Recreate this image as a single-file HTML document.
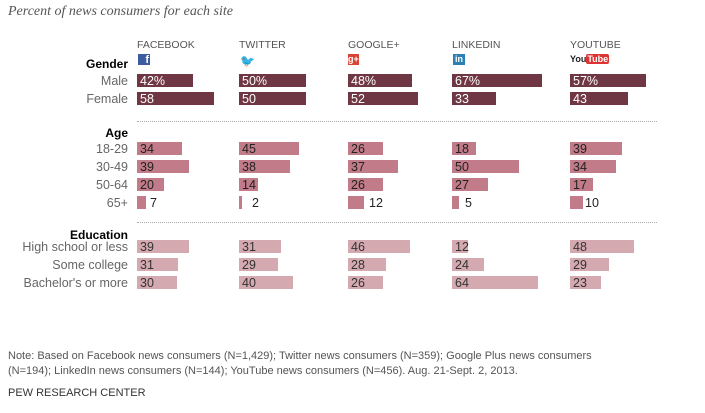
<!DOCTYPE html>
<html><head><style>
body{margin:0;width:705px;height:413px;background:#fff;position:relative;font-family:"Liberation Sans",sans-serif;overflow:hidden}
.a{position:absolute}
.t{position:absolute;font-size:11.5px;color:#555;white-space:nowrap}
.l{position:absolute;font-size:12.5px;color:#666;right:577px;text-align:right;white-space:nowrap}
.h{position:absolute;font-size:12px;font-weight:bold;color:#000;right:577px}
.b{position:absolute;height:13px;font-size:12.5px;line-height:14px;padding-left:3px;box-sizing:border-box;white-space:nowrap}
.g{background:#6f3743;color:#fff}
.ag{background:#c27b88;color:#222}
.ed{background:#d5a9b0;color:#333}
.dot{position:absolute;border-top:1px dotted #aaa}
</style></head><body>
<div class="a" style="left:8px;top:4px;font-family:'Liberation Serif',serif;font-style:italic;font-size:14px;color:#555">Percent of news consumers for each site</div>

<div class="t" style="left:137px;top:39px;font-size:10.5px">FACEBOOK</div>
<div class="t" style="left:239px;top:39px;font-size:10.5px">TWITTER</div>
<div class="t" style="left:348px;top:39px;font-size:10.5px">GOOGLE+</div>
<div class="t" style="left:452px;top:39px;font-size:10.5px">LINKEDIN</div>
<div class="t" style="left:570px;top:39px;font-size:10.5px">YOUTUBE</div>
<div class="a" style="left:138px;top:54px;width:12px;height:11px;background:#3b5da0;color:#fff;font-size:11px;font-weight:bold;line-height:12px;text-align:right;padding-right:1px;box-sizing:border-box">f</div>
<div class="a" style="left:240px;top:54px;color:#3aa0e0;font-size:12px">&#x1F426;</div>
<div class="a" style="left:348px;top:54px;width:11px;height:11px;background:#d94436;color:#fff;font-size:9px;font-weight:bold;line-height:11px">g+</div>
<div class="a" style="left:453px;top:54px;width:12px;height:11px;background:#2b80b4;color:#fff;font-size:9px;font-weight:bold;line-height:11px;text-align:center">in</div>
<div class="a" style="left:570px;top:54px;font-size:9px;font-weight:bold;line-height:11px;color:#222">You<span style="background:#d33;color:#fff;border-radius:2px;padding:0 1px">Tube</span></div>

<div class="h" style="top:57px">Gender</div>
<div class="l" style="top:74px">Male</div>
<div class="l" style="top:92px">Female</div>
<div class="dot" style="left:137px;width:520px;top:121px"></div>
<div class="h" style="top:126px">Age</div>
<div class="l" style="top:142px">18-29</div>
<div class="l" style="top:160px">30-49</div>
<div class="l" style="top:178px">50-64</div>
<div class="l" style="top:196px">65+</div>
<div class="dot" style="left:137px;width:520px;top:222px"></div>
<div class="h" style="top:228px">Education</div>
<div class="l" style="top:240px">High school or less</div>
<div class="l" style="top:258px">Some college</div>
<div class="l" style="top:276px">Bachelor's or more</div>

<div class="b g" style="left:137px;top:74px;width:56px">42%</div>
<div class="b g" style="left:137px;top:92px;width:77px">58</div>
<div class="b ag" style="left:137px;top:142px;width:45px">34</div>
<div class="b ag" style="left:137px;top:160px;width:52px">39</div>
<div class="b ag" style="left:137px;top:178px;width:27px">20</div>
<div class="b ag" style="left:137px;top:196px;width:9px"></div><div class="t" style="left:150px;top:196px;color:#222;font-size:12.5px">7</div>
<div class="b ed" style="left:137px;top:240px;width:52px">39</div>
<div class="b ed" style="left:137px;top:258px;width:41px">31</div>
<div class="b ed" style="left:137px;top:276px;width:40px">30</div>

<div class="b g" style="left:239px;top:74px;width:67px">50%</div>
<div class="b g" style="left:239px;top:92px;width:67px">50</div>
<div class="b ag" style="left:239px;top:142px;width:60px">45</div>
<div class="b ag" style="left:239px;top:160px;width:51px">38</div>
<div class="b ag" style="left:239px;top:178px;width:19px">14</div>
<div class="b ag" style="left:239px;top:196px;width:3px;padding:0"></div><div class="t" style="left:252px;top:196px;color:#222;font-size:12.5px">2</div>
<div class="b ed" style="left:239px;top:240px;width:42px">31</div>
<div class="b ed" style="left:239px;top:258px;width:39px">29</div>
<div class="b ed" style="left:239px;top:276px;width:54px">40</div>

<div class="b g" style="left:348px;top:74px;width:64px">48%</div>
<div class="b g" style="left:348px;top:92px;width:70px">52</div>
<div class="b ag" style="left:348px;top:142px;width:35px">26</div>
<div class="b ag" style="left:348px;top:160px;width:50px">37</div>
<div class="b ag" style="left:348px;top:178px;width:35px">26</div>
<div class="b ag" style="left:348px;top:196px;width:16px"></div><div class="t" style="left:369px;top:196px;color:#222;font-size:12.5px">12</div>
<div class="b ed" style="left:348px;top:240px;width:62px">46</div>
<div class="b ed" style="left:348px;top:258px;width:38px">28</div>
<div class="b ed" style="left:348px;top:276px;width:35px">26</div>

<div class="b g" style="left:452px;top:74px;width:90px">67%</div>
<div class="b g" style="left:452px;top:92px;width:44px">33</div>
<div class="b ag" style="left:452px;top:142px;width:24px">18</div>
<div class="b ag" style="left:452px;top:160px;width:67px">50</div>
<div class="b ag" style="left:452px;top:178px;width:36px">27</div>
<div class="b ag" style="left:452px;top:196px;width:7px"></div><div class="t" style="left:465px;top:196px;color:#222;font-size:12.5px">5</div>
<div class="b ed" style="left:452px;top:240px;width:16px">12</div>
<div class="b ed" style="left:452px;top:258px;width:32px">24</div>
<div class="b ed" style="left:452px;top:276px;width:86px">64</div>

<div class="b g" style="left:570px;top:74px;width:76px">57%</div>
<div class="b g" style="left:570px;top:92px;width:58px">43</div>
<div class="b ag" style="left:570px;top:142px;width:52px">39</div>
<div class="b ag" style="left:570px;top:160px;width:46px">34</div>
<div class="b ag" style="left:570px;top:178px;width:23px">17</div>
<div class="b ag" style="left:570px;top:196px;width:13px"></div><div class="t" style="left:585px;top:196px;color:#222;font-size:12.5px">10</div>
<div class="b ed" style="left:570px;top:240px;width:64px">48</div>
<div class="b ed" style="left:570px;top:258px;width:39px">29</div>
<div class="b ed" style="left:570px;top:276px;width:31px">23</div>

<div class="a" style="left:8px;top:349px;font-size:11px;color:#555;line-height:15px;width:690px">Note: Based on Facebook news consumers (N=1,429); Twitter news consumers (N=359); Google Plus news consumers<br>(N=194); LinkedIn news consumers (N=144); YouTube news consumers (N=456). Aug. 21-Sept. 2, 2013.</div>
<div class="a" style="left:8px;top:387px;font-size:11px;color:#333">PEW RESEARCH CENTER</div>
</body></html>
